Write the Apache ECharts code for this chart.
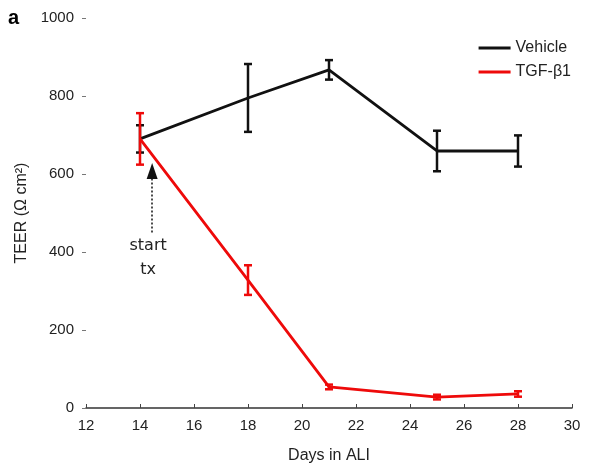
<!DOCTYPE html>
<html>
<head>
<meta charset="utf-8">
<script src="https://cdn.jsdelivr.net/npm/echarts@6/dist/echarts.min.js"></script>
<style>
  html, body { margin: 0; padding: 0; background: #fff; }
  #chart { width: 602px; height: 474px; }
</style>
</head>
<body>
<div id="chart"></div>
<script>
// Days in ALI
const days = [14, 18, 21, 25, 28];
// TEER means and error (± half bar)
const vehicleMean = [690, 795, 867, 659, 659];
const vehicleErr = [35, 87, 25, 52, 40];
const tgfMean = [690, 328, 54, 28, 36];
const tgfErr = [66, 38, 6, 6, 7];

const xTicks = [12, 14, 16, 18, 20, 22, 24, 26, 28, 30];
const yTicks = [0, 200, 400, 600, 800, 1000];

const BLACK = "#111111";
const RED = "#ee0a0a";
const FONT = "Liberation Sans, Arial, sans-serif";

function errData(mean, err) {
  return days.map((d, i) => [d, mean[i] - err[i], mean[i] + err[i]]);
}

function errRender(color) {
  return function (params, api) {
    const x = api.value(0);
    const lo = api.coord([x, api.value(1)]);
    const hi = api.coord([x, api.value(2)]);
    const cap = 4;
    const style = { stroke: color, lineWidth: 2.5 };
    return {
      type: "group",
      children: [
        { type: "line", shape: { x1: lo[0], y1: lo[1], x2: hi[0], y2: hi[1] }, style },
        { type: "line", shape: { x1: lo[0] - cap, y1: lo[1], x2: lo[0] + cap, y2: lo[1] }, style },
        { type: "line", shape: { x1: hi[0] - cap, y1: hi[1], x2: hi[0] + cap, y2: hi[1] }, style },
      ],
    };
  };
}

const chart = echarts.init(document.getElementById("chart"));

chart.setOption({
  animation: false,
  textStyle: { fontFamily: FONT },
  grid: { left: 86, right: 30, top: 18, bottom: 66 },
  legend: {
    orient: "vertical",
    right: 26,
    top: 35,
    itemWidth: 32,
    itemHeight: 3,
    itemGap: 8,
    icon: "rect",
    textStyle: { fontSize: 16, color: "#222", fontFamily: FONT },
    data: [
      { name: "Vehicle", itemStyle: { color: BLACK } },
      { name: "TGF-β1", itemStyle: { color: RED } },
    ],
  },
  xAxis: {
    type: "value",
    min: xTicks[0],
    max: xTicks[xTicks.length - 1],
    interval: 2,
    name: "Days in ALI",
    nameLocation: "middle",
    nameGap: 40,
    nameTextStyle: { fontSize: 16, color: "#222" },
    axisLine: { lineStyle: { color: "#333", width: 1.5 } },
    axisTick: { inside: true, length: 4, lineStyle: { color: "#444" } },
    axisLabel: { fontSize: 15, color: "#222", margin: 10 },
    splitLine: { show: false },
  },
  yAxis: {
    type: "value",
    min: yTicks[0],
    max: yTicks[yTicks.length - 1],
    interval: 200,
    name: "TEER (Ω cm²)",
    nameLocation: "middle",
    nameGap: 50,
    nameTextStyle: { fontSize: 16, color: "#222" },
    axisLine: { show: false },
    axisTick: { show: true, length: 4, lineStyle: { color: "#777" } },
    axisLabel: { fontSize: 15, color: "#222", margin: 12, formatter: (v) => String(v) },
    splitLine: { show: false },
  },
  graphic: [
    {
      type: "text",
      left: 8,
      top: 8,
      style: { text: "a", font: "bold 20px " + FONT, fill: "#000" },
    },
  ],
  series: [
    {
      name: "Vehicle",
      type: "line",
      data: days.map((d, i) => [d, vehicleMean[i]]),
      symbol: "none",
      lineStyle: { color: BLACK, width: 2.8 },
      itemStyle: { color: BLACK },
      z: 2,
    },
    {
      type: "custom",
      renderItem: errRender(BLACK),
      data: errData(vehicleMean, vehicleErr),
      encode: { x: 0, y: [1, 2] },
      z: 3,
    },
    {
      name: "TGF-β1",
      type: "line",
      data: days.map((d, i) => [d, tgfMean[i]]),
      symbol: "none",
      lineStyle: { color: RED, width: 2.8 },
      itemStyle: { color: RED },
      z: 4,
      markLine: {
        silent: true,
        symbol: ["none", "triangle"],
        symbolSize: [11, 16],
        lineStyle: { color: "#111", type: [2, 2], width: 1.5 },
        label: { show: false },
        data: [[{ coord: [14.45, 450] }, { coord: [14.45, 608] }]],
      },
      markPoint: {
        silent: true,
        symbol: "circle",
        symbolSize: 0,
        label: {
          show: true,
          formatter: "start\ntx",
          fontSize: 16,
          lineHeight: 24,
          color: "#222",
          fontFamily: "DejaVu Sans, sans-serif",
        },
        data: [{ coord: [14.3, 384] }],
      },
    },
    {
      type: "custom",
      renderItem: errRender(RED),
      data: errData(tgfMean, tgfErr),
      encode: { x: 0, y: [1, 2] },
      z: 5,
    },
  ],
});
</script>
</body>
</html>
